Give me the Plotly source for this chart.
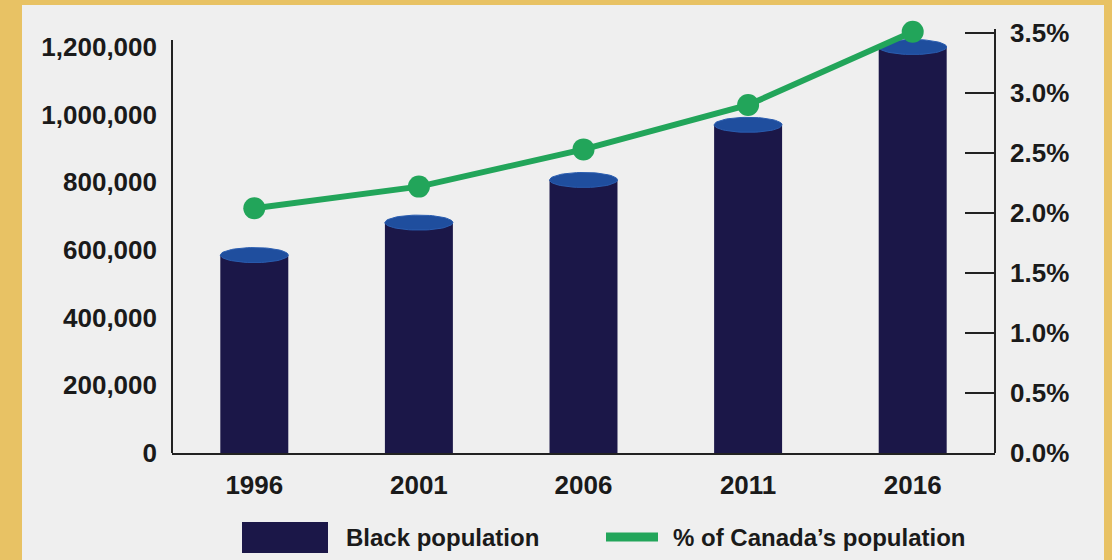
import math
import plotly.graph_objects as go

years = ["1996", "2001", "2006", "2011", "2016"]
black_population = [585000, 681000, 807000, 970000, 1200000]
pct_of_canada = [2.04, 2.22, 2.53, 2.90, 3.51]
left_ticks = [0, 200000, 400000, 600000, 800000, 1000000, 1200000]
right_ticks = [0, 0.5, 1.0, 1.5, 2.0, 2.5, 3.0, 3.5]

# layout constants (pixels)
W, H = 1112, 560
L, R, T, B = 172, 995, 18, 453
pw, ph = R - L, B - T

def px(x):
    return (x - L) / pw

def py(y):
    return (B - y) / ph

GOLD = "#E8C264"
BG = "#EFEFEF"
NAVY = "#1B1748"
TOP = "#1F4E9E"
GREEN = "#22A55A"
TXT = "#1A1A1A"
FONT = "Liberation Sans, Arial, sans-serif"

bargap = 0.587
left_max = 1200000 * ph / (B - 47)
right_max = 3.5 * ph / (B - 33)
xi = list(range(len(years)))

fig = go.Figure()
fig.add_trace(go.Bar(x=xi, y=black_population, marker=dict(color=NAVY, line=dict(width=0)),
                     name="Black population", yaxis="y"))

# cylinder tops as filled ellipses
half = (1 - bargap) / 2
dy = 7.5 * left_max / ph
ts = [2 * math.pi * k / 60 for k in range(61)]
for i, v in zip(xi, black_population):
    fig.add_trace(go.Scatter(x=[i + half * math.cos(t) for t in ts], y=[v + dy * math.sin(t) for t in ts],
                             mode="lines", fill="toself", fillcolor=TOP, line=dict(color="#2A5DB0", width=1),
                             hoverinfo="skip", showlegend=False, yaxis="y"))

fig.add_trace(go.Scatter(x=xi, y=pct_of_canada, mode="lines+markers", yaxis="y2", cliponaxis=False,
                         line=dict(color=GREEN, width=6), marker=dict(color=GREEN, size=22),
                         name="% of Canada's population"))

shapes = []
# background panel
shapes.append(dict(type="rect", xref="paper", yref="paper", x0=px(22), x1=px(1104), y0=py(H + 5), y1=py(5),
                   fillcolor=BG, line=dict(width=0), layer="below"))
# axis lines
shapes.append(dict(type="line", xref="paper", yref="paper", x0=0, x1=0, y0=0, y1=py(40),
                   line=dict(color="#222", width=2)))
shapes.append(dict(type="line", xref="paper", yref="paper", x0=1, x1=1, y0=0, y1=py(29),
                   line=dict(color="#222", width=2)))
# legend symbols
shapes.append(dict(type="rect", xref="paper", yref="paper", x0=px(242), x1=px(328), y0=py(553), y1=py(522),
                   fillcolor=NAVY, line=dict(width=0)))
shapes.append(dict(type="line", xref="paper", yref="paper", x0=px(606), x1=px(658), y0=py(537), y1=py(537),
                   line=dict(color=GREEN, width=9)))

annotations = [
    dict(text="<b>Black population</b>", xref="paper", yref="paper", x=px(344), y=py(537),
         xanchor="left", yanchor="middle", showarrow=False, font=dict(size=24, color=TXT, family=FONT)),
    dict(text="<b>% of Canada\u2019s population</b>", xref="paper", yref="paper", x=px(671), y=py(537),
         xanchor="left", yanchor="middle", showarrow=False, font=dict(size=24, color=TXT, family=FONT)),
]

fig.update_layout(
    width=W, height=H,
    margin=dict(l=L, r=W - R, t=T, b=H - B, pad=0),
    paper_bgcolor=GOLD, plot_bgcolor="rgba(0,0,0,0)",
    showlegend=False, bargap=bargap,
    font=dict(family=FONT, color=TXT),
    xaxis=dict(range=[-0.5, len(years) - 0.5], tickvals=xi, ticktext=years,
               showline=True, linecolor="#222", linewidth=2, ticks="", zeroline=False,
               showgrid=False, tickfont=dict(size=26, family=FONT, color=TXT, weight="bold"),
               ticklabelstandoff=8),
    yaxis=dict(range=[0, left_max], tickvals=left_ticks,
               ticktext=[f"{v:,}" for v in left_ticks], showline=False,
               ticks="", showgrid=False, zeroline=False,
               tickfont=dict(size=26, family=FONT, color=TXT, weight="bold"), ticklabelstandoff=14),
    yaxis2=dict(range=[0, right_max], overlaying="y", side="right", tickvals=right_ticks,
                ticktext=[f"{v:.1f}%" for v in right_ticks], showline=False,
                ticks="inside", ticklen=30, tickwidth=2, tickcolor="#222", showgrid=False, zeroline=False,
                tickfont=dict(size=26, family=FONT, color=TXT, weight="bold"), ticklabelstandoff=14),
    shapes=shapes, annotations=annotations,
)

fig.write_html("out.html")
